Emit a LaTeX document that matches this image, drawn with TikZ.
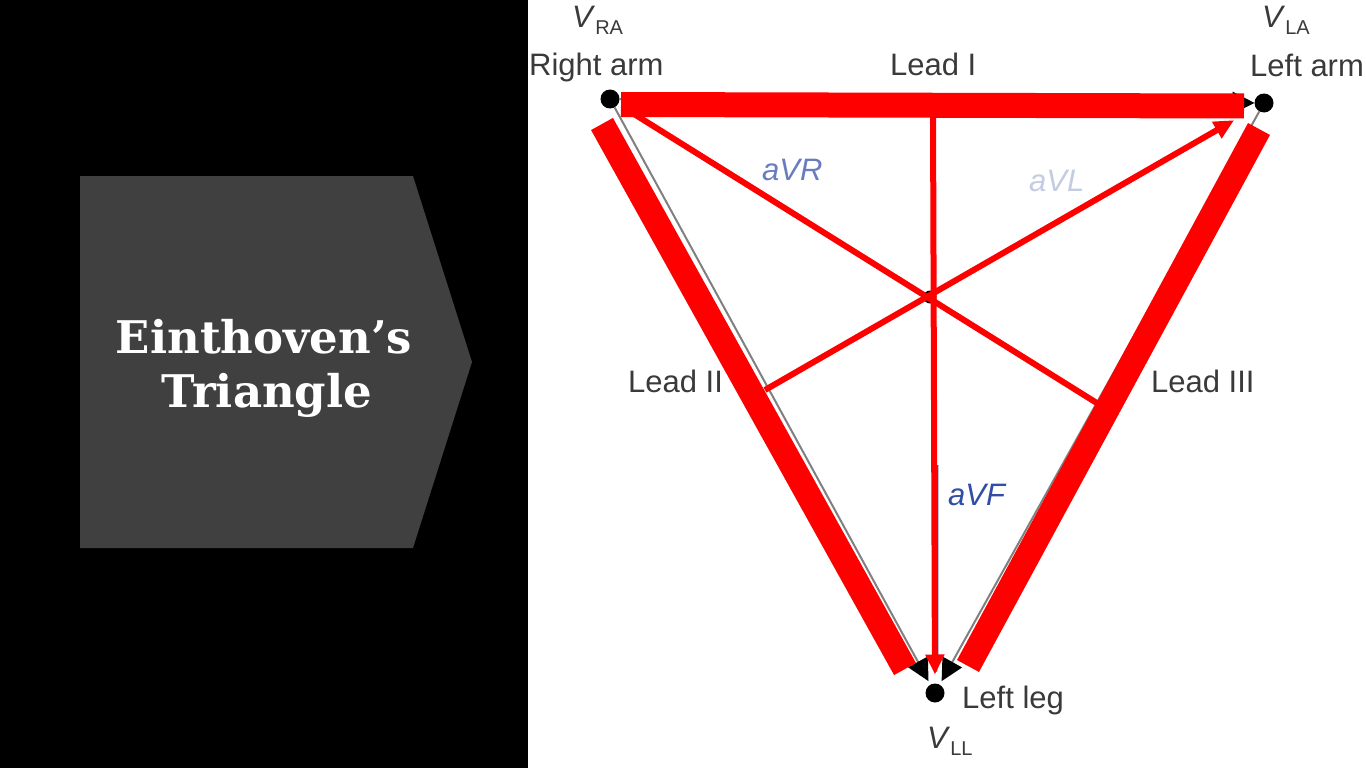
\documentclass[tikz,border=0pt]{standalone}
\usepackage{fontspec}
\setmainfont{Liberation Sans}
\newfontfamily\slabfont{DejaVu Serif}
\usetikzlibrary{arrows.meta}
\definecolor{panelGrey}{RGB}{64,64,64}
\definecolor{leadRed}{RGB}{255,0,0}
\definecolor{labelGrey}{RGB}{58,58,58}
\definecolor{avrBlue}{RGB}{105,125,190}
\definecolor{avlBlue}{RGB}{196,204,228}
\definecolor{avfBlue}{RGB}{48,78,165}
\newcommand\elecname[1]{\textit{V}\raisebox{-7pt}{\fontsize{20}{20}\selectfont #1}}

\begin{document}
\begin{tikzpicture}[x=1pt,y=-1pt,
  title/.style={text=white,anchor=base,inner sep=0pt,font=\slabfont\bfseries\fontsize{45}{54}\selectfont},
  elec/.style={circle,fill=black,inner sep=0pt,outer sep=0pt,minimum size=19pt},
  lbl/.style={text=labelGrey,anchor=base west,inner sep=0pt,font=\fontsize{31}{36}\selectfont},
  lead/.style={draw=gray,line width=2pt,-{Triangle[length=22pt,width=22pt,color=black]}},
  bar/.style={draw=leadRed,line width=25pt},
  vec/.style={draw=leadRed,line width=6pt},
  vechead/.style={-{Triangle[length=20pt,width=18pt]}}
]
  \useasboundingbox (0,0) rectangle (1366,768);
  \fill[white] (0,0) rectangle (1366,768);

  % left panel
  \fill[black] (0,0) rectangle (528,768);
  \fill[panelGrey] (80,176) -- (413,176) -- (472,362) -- (413,548) -- (80,548) -- cycle;
  \node[title] (title1) at (264,353) {Einthoven’s};
  \node[title] (title2) at (267,407) {Triangle};

  % electrodes
  \node[elec] (ra) at (610,99) {};
  \node[elec] (la) at (1264,103) {};
  \node[elec] (ll) at (935,693) {};
  \node[circle,fill=black,inner sep=0pt,minimum size=13pt] (ctr) at (930,297) {};

  \coordinate (avrend) at (1100,405);
  \coordinate (avlstart) at (765,390);
  \coordinate (avftop) at (933,112);
  \coordinate (bluetop) at (937.5,465);
  \coordinate (bluebend) at (937.5,655);
  \coordinate (b1a) at (621,104.5);
  \coordinate (b1b) at (1244,106);
  \coordinate (b2a) at (602,124);
  \coordinate (b2b) at (905,669);
  \coordinate (b3a) at (1259,129);
  \coordinate (b3b) at (968,666);

  % leads
  \draw[lead] (ra) -- (la);
  \draw[lead,shorten >=4pt] (ra) -- (ll);
  \draw[lead,shorten >=4pt] (la) -- (ll);

  % augmented leads
  \draw[avfBlue,line width=1.5pt,shorten >=12pt] (bluetop) -- (bluebend) -- (ll);
  \draw[vec,shorten >=14pt] (avrend) -- (ra);
  \draw[vec,vechead,shorten >=25pt] (avlstart) -- (la);
  \draw[vec,vechead,shorten >=9pt] (avftop) -- (ll);

  % thick bars
  \draw[bar] (b1a) -- (b1b);
  \draw[bar] (b2a) -- (b2b);
  \draw[bar] (b3a) -- (b3b);

  % labels
  \node[lbl] (raname) at (572,28) {\elecname{RA}};
  \node[lbl] (rarm) at (529,76) {Right arm};
  \node[lbl] (leadi) at (890,76) {Lead I};
  \node[lbl] (laname) at (1262,28) {\elecname{LA}};
  \node[lbl] (larm) at (1250,77) {Left arm};
  \node[lbl,text=avrBlue] (avr) at (762,180) {\itshape aVR};
  \node[lbl,text=avlBlue] (avl) at (1029,191) {\itshape aVL};
  \node[lbl] (leadii) at (628,392) {Lead II};
  \node[lbl] (leadiii) at (1151,392) {Lead III};
  \node[lbl,text=avfBlue] (avf) at (948,505) {\itshape aVF};
  \node[lbl] (leftleg) at (962,708) {Left leg};
  \node[lbl] (llname) at (927,748) {\elecname{LL}};
\end{tikzpicture}
\end{document}
